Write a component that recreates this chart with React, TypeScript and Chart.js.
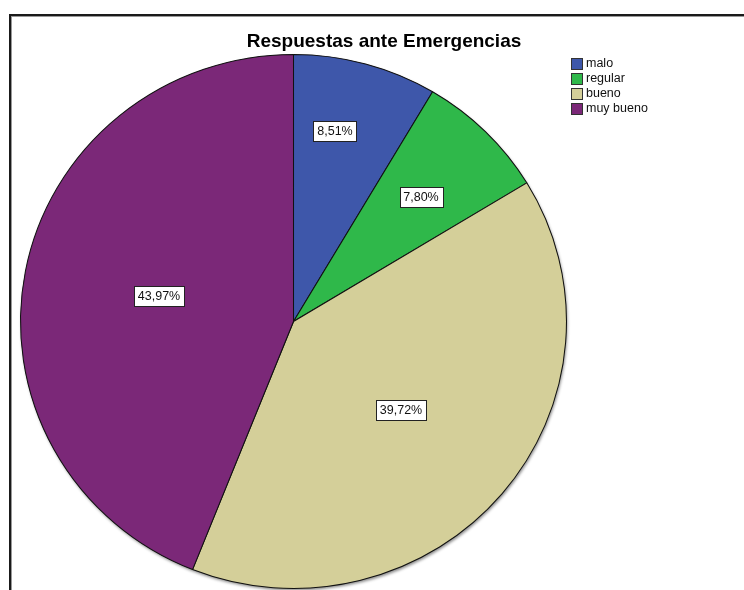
import React, { useEffect, useRef } from "react";
import { Chart, registerables } from "chart.js";

Chart.register(...registerables);

const categories = ["malo", "regular", "bueno", "muy bueno"];
const percentages = [8.51, 7.8, 39.72, 43.97];
const sliceColors = ["#3E57AA", "#2FB84A", "#D4CF99", "#7B2878"];
const valueLabels = ["8,51%", "7,80%", "39,72%", "43,97%"];
const labelAngleFrac = [0.39, 0.52, 0.5, 0.5];
const labelRadiusFrac = [0.73, 0.66, 0.515, 0.5];
const titleText = "Respuestas ante Emergencias";

const X_STRETCH = 1.0224;
const FONT = "'Liberation Sans', Arial, sans-serif";

function arcInfo(chart: any) {
  const meta = chart.getDatasetMeta(0);
  const a = meta.data[0];
  return { cx: a.x, cy: a.y, r: a.outerRadius, arcs: meta.data };
}

const stretchPlugin = {
  id: "stretch",
  beforeDatasetsDraw(chart: any) {
    const ctx = chart.ctx;
    const { cx, cy, r } = arcInfo(chart);
    ctx.save();
    ctx.translate(cx, cy);
    ctx.scale(X_STRETCH, 1);
    ctx.translate(-cx, -cy);
    ctx.save();
    ctx.shadowColor = "rgba(0,0,0,0.45)";
    ctx.shadowBlur = 3;
    ctx.shadowOffsetX = 1;
    ctx.shadowOffsetY = 2;
    ctx.beginPath();
    ctx.arc(cx, cy, r, 0, Math.PI * 2);
    ctx.fillStyle = "#888";
    ctx.fill();
    ctx.restore();
  },
  afterDatasetsDraw(chart: any) {
    chart.ctx.restore();
  },
};

const decorPlugin = {
  id: "decor",
  afterDraw(chart: any) {
    const ctx = chart.ctx;
    const { cx, cy, r, arcs } = arcInfo(chart);
    ctx.save();
    ctx.font = `12.5px ${FONT}`;
    ctx.textAlign = "center";
    ctx.textBaseline = "middle";
    arcs.forEach((arc: any, i: number) => {
      const ang = arc.startAngle + (arc.endAngle - arc.startAngle) * labelAngleFrac[i];
      const rr = r * labelRadiusFrac[i];
      const x = cx + Math.cos(ang) * rr * X_STRETCH;
      const y = cy + Math.sin(ang) * rr;
      const t = valueLabels[i];
      const w = Math.round(ctx.measureText(t).width + 8);
      const h = 20;
      const bx = Math.round(x - w / 2) + 0.5;
      const by = Math.round(y - h / 2) + 0.5;
      ctx.fillStyle = "#ffffff";
      ctx.fillRect(bx, by, w, h);
      ctx.strokeStyle = "#222";
      ctx.lineWidth = 1;
      ctx.strokeRect(bx, by, w, h);
      ctx.fillStyle = "#111";
      ctx.fillText(t, Math.round(x), Math.round(y) + 1);
    });
    ctx.font = `bold 19px ${FONT}`;
    ctx.fillStyle = "#000";
    ctx.textAlign = "center";
    ctx.fillText(titleText, 384, 42);
    ctx.font = `12.5px ${FONT}`;
    ctx.textAlign = "left";
    categories.forEach((c, i) => {
      const y = 58 + i * 15;
      ctx.fillStyle = sliceColors[i];
      ctx.fillRect(571.5, y + 0.5, 11, 11);
      ctx.strokeStyle = "#333";
      ctx.strokeRect(571.5, y + 0.5, 11, 11);
      ctx.fillStyle = "#111";
      ctx.fillText(c, 586, y + 6);
    });
    ctx.restore();
  },
};

export default function App() {
  const ref = useRef<HTMLCanvasElement | null>(null);
  useEffect(() => {
    if (!ref.current) return;
    const chart = new Chart(ref.current, {
      type: "pie",
      data: {
        labels: categories,
        datasets: [
          {
            data: percentages,
            backgroundColor: sliceColors,
            borderColor: "#111",
            borderWidth: 1,
            borderAlign: "center",
          },
        ],
      },
      options: {
        responsive: false,
        animation: false,
        layout: { padding: { left: 26, right: 183, top: 54, bottom: 1 } },
        plugins: {
          legend: { display: false },
          title: { display: false },
          tooltip: { enabled: false },
        },
      },
      plugins: [stretchPlugin, decorPlugin],
    });
    return () => chart.destroy();
  }, []);
  return (
    <div
      style={{
        position: "fixed",
        left: 0,
        top: 0,
        width: 744,
        height: 590,
        background: "#fff",
        overflow: "hidden",
      }}
    >
      <div
        style={{
          position: "absolute",
          left: 9,
          top: 14,
          width: 800,
          height: 700,
          borderTop: "2px solid #1a1a1a",
          borderLeft: "2px solid #1a1a1a",
          boxShadow: "inset 1px 1px 0 #999",
        }}
      />
      <canvas
        ref={ref}
        width={744}
        height={590}
        style={{ position: "absolute", left: 0, top: 0, width: 744, height: 590 }}
      />
    </div>
  );
}
